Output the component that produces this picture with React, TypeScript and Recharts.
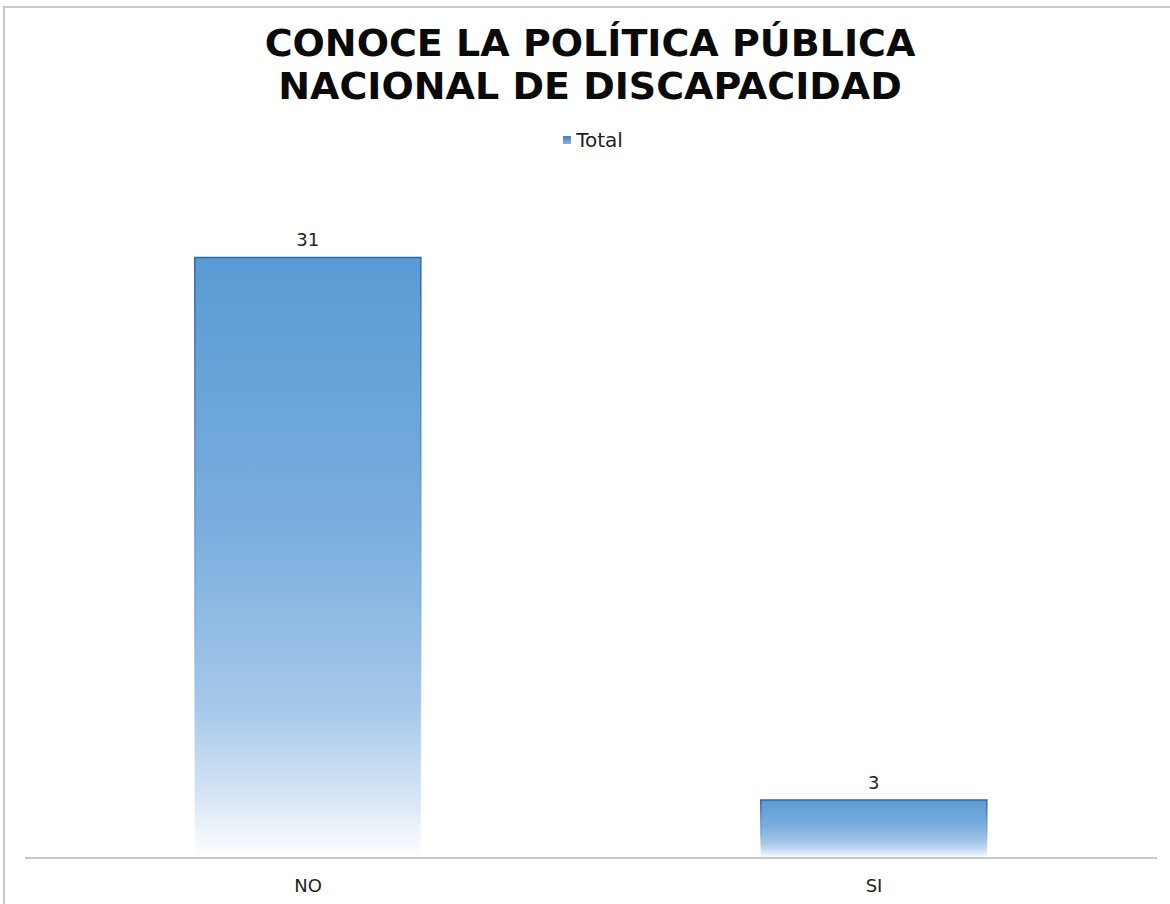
import React from 'react';
import { BarChart, Bar, XAxis, YAxis, LabelList, Legend } from 'recharts';

const categories = ['NO', 'SI'];
const totals = [31, 3];
const seriesName = 'Total';
const titleLines = ['CONOCE LA POLÍTICA PÚBLICA', 'NACIONAL DE DISCAPACIDAD'];

const chartData = categories.map((c, i) => ({ name: c, total: totals[i] }));

const FONT = '"DejaVu Sans", Verdana, sans-serif';

function LegendBox() {
  return (
    <div style={{ display: 'flex', justifyContent: 'center', alignItems: 'center', gap: 5, fontFamily: FONT, fontSize: 20, color: '#222', height: 20, paddingLeft: 6 }}>
      <span style={{ width: 8, height: 8, background: 'linear-gradient(#3f7fc0, #8ab4de)', display: 'inline-block' }} />
      <span>{seriesName}</span>
    </div>
  );
}

export default function App() {
  return (
    <div style={{ position: 'absolute', left: 0, top: 0, width: 1170, height: 904, background: '#fff', overflow: 'hidden' }}>
      <div style={{ position: 'absolute', left: 3, top: 6, right: -4, bottom: -4, borderLeft: '2px solid #c8c8c8', borderTop: '2px solid #c8c8c8' }} />
      <div style={{ position: 'absolute', left: 0, top: 22, width: 1180, textAlign: 'center', fontFamily: FONT, fontWeight: 'bold', fontSize: 38, lineHeight: '43px', color: '#0a0a0a' }}>
        {titleLines.map((t) => (
          <div key={t}>{t}</div>
        ))}
      </div>
      <BarChart
        width={1170}
        height={904}
        data={chartData}
        margin={{ top: 160, right: 13, left: 25, bottom: 0 }}
        barCategoryGap="30%"
        style={{ position: 'absolute', left: 0, top: 0 }}
      >
        <defs>
          <linearGradient id="barFill" x1="0" y1="0" x2="0" y2="1">
            <stop offset="0%" stopColor="#5a9bd5" />
            <stop offset="45%" stopColor="#7aaede" />
            <stop offset="75%" stopColor="#a6c8e9" />
            <stop offset="90%" stopColor="#d6e6f5" />
            <stop offset="100%" stopColor="#ffffff" />
          </linearGradient>
          <linearGradient id="barStroke" x1="0" y1="0" x2="0" y2="1">
            <stop offset="0%" stopColor="#2f65a3" />
            <stop offset="60%" stopColor="#6a9fd6" stopOpacity={0.6} />
            <stop offset="100%" stopColor="#ffffff" stopOpacity={0} />
          </linearGradient>
        </defs>
        <XAxis
          dataKey="name"
          axisLine={{ stroke: '#c8c8c8', strokeWidth: 2 }}
          tickLine={false}
          height={46}
          tickMargin={15}
          tick={{ fill: '#222', fontSize: 18, fontFamily: FONT }}
        />
        <YAxis hide domain={[0, 35]} />
        <Legend verticalAlign="top" content={() => <LegendBox />} wrapperStyle={{ top: 130, left: 0, width: 1180 }} />
        <Bar dataKey="total" name={seriesName} fill="url(#barFill)" stroke="url(#barStroke)" strokeWidth={1.5} isAnimationActive={false}>
          <LabelList dataKey="total" position="top" offset={11} style={{ fill: '#222', fontSize: 18, fontFamily: FONT }} />
        </Bar>
      </BarChart>
    </div>
  );
}
